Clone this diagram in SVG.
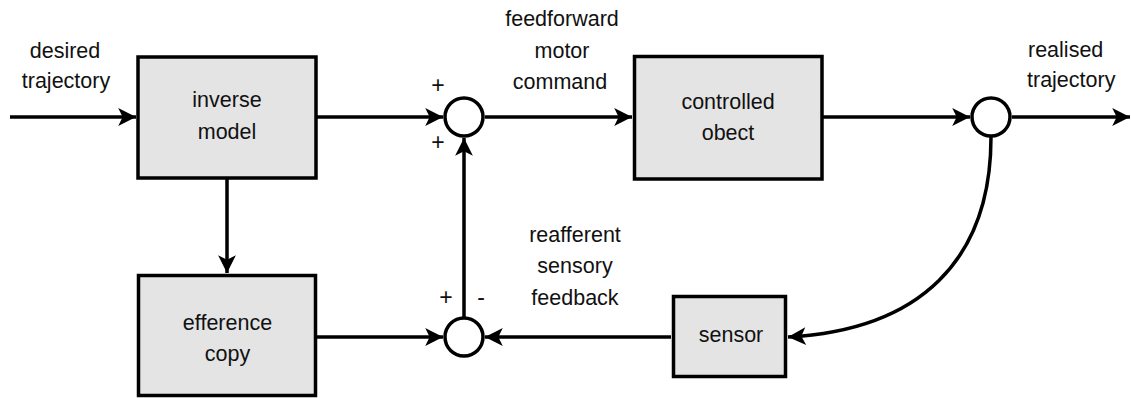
<svg xmlns="http://www.w3.org/2000/svg" width="1131" height="398" viewBox="0 0 1131 398">
  <style>
    .box { fill: #e4e4e4; stroke: #000; stroke-width: 3.5; }
    .sum { fill: #fff; stroke: #000; stroke-width: 3.5; }
    .wire { fill: none; stroke: #000; stroke-width: 3.5; marker-end: url(#arrow); }
    text { font-family: "Liberation Sans", Arial, sans-serif; font-size: 21.5px; fill: #111; text-anchor: middle; }
    .sign { font-size: 23px; }
  </style>
  <defs>
    <marker id="arrow" markerUnits="userSpaceOnUse" markerWidth="20" markerHeight="20" viewBox="-17 -9 18 18" refX="0" refY="0" orient="auto">
      <path d="M0,0 L-16,-8 L-12,0 L-16,8 Z" fill="#000"/>
    </marker>
  </defs>

  <!-- connectors -->
  <g id="connectors">
    <path class="wire" d="M10,117 L136,117"/>
    <path class="wire" d="M317,117 L443,117"/>
    <path class="wire" d="M485,117 L632,117"/>
    <path class="wire" d="M823,117 L970,117"/>
    <path class="wire" d="M1012,117 L1130,117"/>
    <path class="wire" d="M227,179 L227,273"/>
    <path class="wire" d="M317,337 L443,337"/>
    <path class="wire" d="M671,337 L485,337"/>
    <path class="wire" d="M464,317 L464,138"/>
    <path class="wire" d="M991,137 C991,260 920,330 788,337"/>
  </g>

  <!-- input label -->
  <g id="label-desired">
    <text x="65" y="58">desired</text>
    <text x="66" y="88">trajectory</text>
  </g>

  <g id="inverse-model">
    <rect class="box" x="138" y="57" width="178" height="121"/>
    <text x="227" y="107">inverse</text>
    <text x="227" y="139">model</text>
  </g>

  <g id="efference-copy">
    <rect class="box" x="138.5" y="275.5" width="177" height="120"/>
    <text x="227.5" y="330">efference</text>
    <text x="227.5" y="361">copy</text>
  </g>

  <g id="sum-forward">
    <circle class="sum" cx="464" cy="117" r="19"/>
    <text class="sign" x="438" y="93">+</text>
    <text class="sign" x="438" y="150">+</text>
  </g>

  <g id="label-feedforward">
    <text x="562" y="26">feedforward</text>
    <text x="562" y="58">motor</text>
    <text x="560" y="89">command</text>
  </g>

  <g id="controlled-object">
    <rect class="box" x="634.5" y="56.5" width="187.5" height="122.5"/>
    <text x="728" y="109">controlled</text>
    <text x="728" y="140">obect</text>
  </g>

  <g id="sum-output">
    <circle class="sum" cx="991" cy="117" r="19"/>
  </g>

  <g id="label-realised">
    <text x="1028" y="57" style="text-anchor:start">realised</text>
    <text x="1027" y="87" style="text-anchor:start">trajectory</text>
  </g>

  <g id="sensor">
    <rect class="box" x="673.5" y="296.5" width="112" height="80"/>
    <text x="731" y="342">sensor</text>
  </g>

  <g id="label-reafferent">
    <text x="575" y="242">reafferent</text>
    <text x="575" y="273">sensory</text>
    <text x="575" y="305">feedback</text>
  </g>

  <g id="sum-comparator">
    <circle class="sum" cx="464" cy="337" r="19"/>
    <text class="sign" x="446" y="305">+</text>
    <text class="sign" x="481" y="305">-</text>
  </g>
</svg>
